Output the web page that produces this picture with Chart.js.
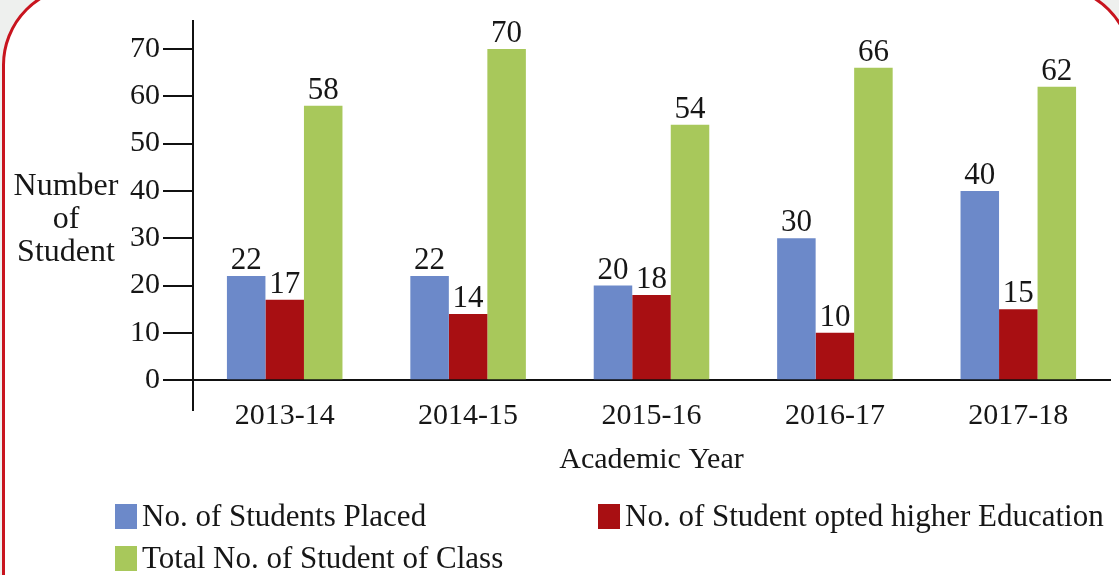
<!DOCTYPE html>
<html>
<head>
<meta charset="utf-8">
<script src="https://cdn.jsdelivr.net/npm/chart.js@4"></script>
<style>
  html, body { margin: 0; padding: 0; }
  body { width: 1119px; height: 575px; overflow: hidden; position: relative; background: #eef0ee; font-family: "Liberation Serif", serif; color: #161616; }
  #frame { position: absolute; left: 2px; top: -15px; width: 1125px; height: 700px; border: 3px solid #c8141e; border-radius: 80px; background: #fff; }
  #wrap { position: absolute; left: 0; top: 0; width: 1119px; height: 575px; }
  #ytitle { position: absolute; left: 0; top: 168px; width: 132px; text-align: center; font-size: 32px; line-height: 33px; }
  .leg { position: absolute; font-size: 31px; line-height: 31px; white-space: nowrap; }
  .leg i { display: inline-block; width: 22px; height: 25px; margin-right: 5px; vertical-align: -3px; }
</style>
</head>
<body>
<div id="frame"></div>
<div id="wrap"><canvas id="chart" width="1119" height="575"></canvas></div>
<div id="ytitle">Number<br>of<br>Student</div>
<div id="legend"></div>
<script>
// values as printed above the bars
const years = ['2013-14', '2014-15', '2015-16', '2016-17', '2017-18'];
const placed = [22, 22, 20, 30, 40];
const higherEdu = [17, 14, 18, 10, 15];
const totalClass = [58, 70, 54, 66, 62];
const yTicks = [0, 10, 20, 30, 40, 50, 60, 70];
const seriesNames = ['No. of Students Placed', 'No. of Student opted higher Education', 'Total No. of Student of Class'];
const seriesColors = ['#6c89c9', '#a80f12', '#a8c85b'];

const FONT = '"Liberation Serif", serif';
Chart.defaults.font.family = FONT;
Chart.defaults.color = '#161616';

// draws the number above every bar
const valueLabels = {
  id: 'valueLabels',
  afterDatasetsDraw(chart) {
    const ctx = chart.ctx;
    ctx.save();
    ctx.font = '31px ' + FONT;
    ctx.fillStyle = '#161616';
    ctx.textAlign = 'center';
    ctx.textBaseline = 'alphabetic';
    chart.data.datasets.forEach((ds, i) => {
      chart.getDatasetMeta(i).data.forEach((bar, j) => {
        ctx.fillText(ds.data[j], bar.x, bar.y - 7);
      });
    });
    ctx.restore();
  }
};

const seriesData = [placed, higherEdu, totalClass];

const chart = new Chart(document.getElementById('chart'), {
  type: 'bar',
  data: {
    labels: years,
    datasets: seriesData.map((d, i) => ({
      label: seriesNames[i],
      data: d,
      backgroundColor: seriesColors[i],
      borderWidth: 0,
      barPercentage: 1,
      categoryPercentage: 0.63
    }))
  },
  options: {
    responsive: false,
    animation: false,
    layout: { padding: { left: 0, right: 9, top: 4, bottom: 165 } },
    plugins: { legend: { display: false }, tooltip: { enabled: false } },
    scales: {
      x: {
        position: { y: 0 },
        grid: { display: false, drawTicks: false },
        border: { display: true, color: '#111', width: 2 },
        ticks: { font: { size: 30 }, padding: 18, color: '#161616' },
        title: { display: true, text: 'Academic Year', font: { size: 30, lineHeight: 0.55 }, color: '#161616', padding: 0 }
      },
      y: {
        min: -6.3,
        max: 75.9,
        afterBuildTicks: (scale) => { scale.ticks = yTicks.map(v => ({ value: v })); },
        afterFit: (scale) => { scale.width = 193; },
        grid: { drawOnChartArea: false, drawTicks: true, tickLength: 30, color: '#111', lineWidth: 2 },
        border: { display: true, color: '#111', width: 2 },
        ticks: { font: { size: 30 }, padding: 3, color: '#161616' }
      }
    }
  },
  plugins: [valueLabels]
});

// legend laid out in two columns like the original
const legendPos = [[115, 500], [598, 500], [115, 542]];
const legend = document.getElementById('legend');
chart.data.datasets.forEach((ds, i) => {
  const el = document.createElement('div');
  el.className = 'leg';
  el.style.left = legendPos[i][0] + 'px';
  el.style.top = legendPos[i][1] + 'px';
  el.innerHTML = '<i style="background:' + ds.backgroundColor + '"></i>' + ds.label;
  legend.appendChild(el);
});
</script>
</body>
</html>
